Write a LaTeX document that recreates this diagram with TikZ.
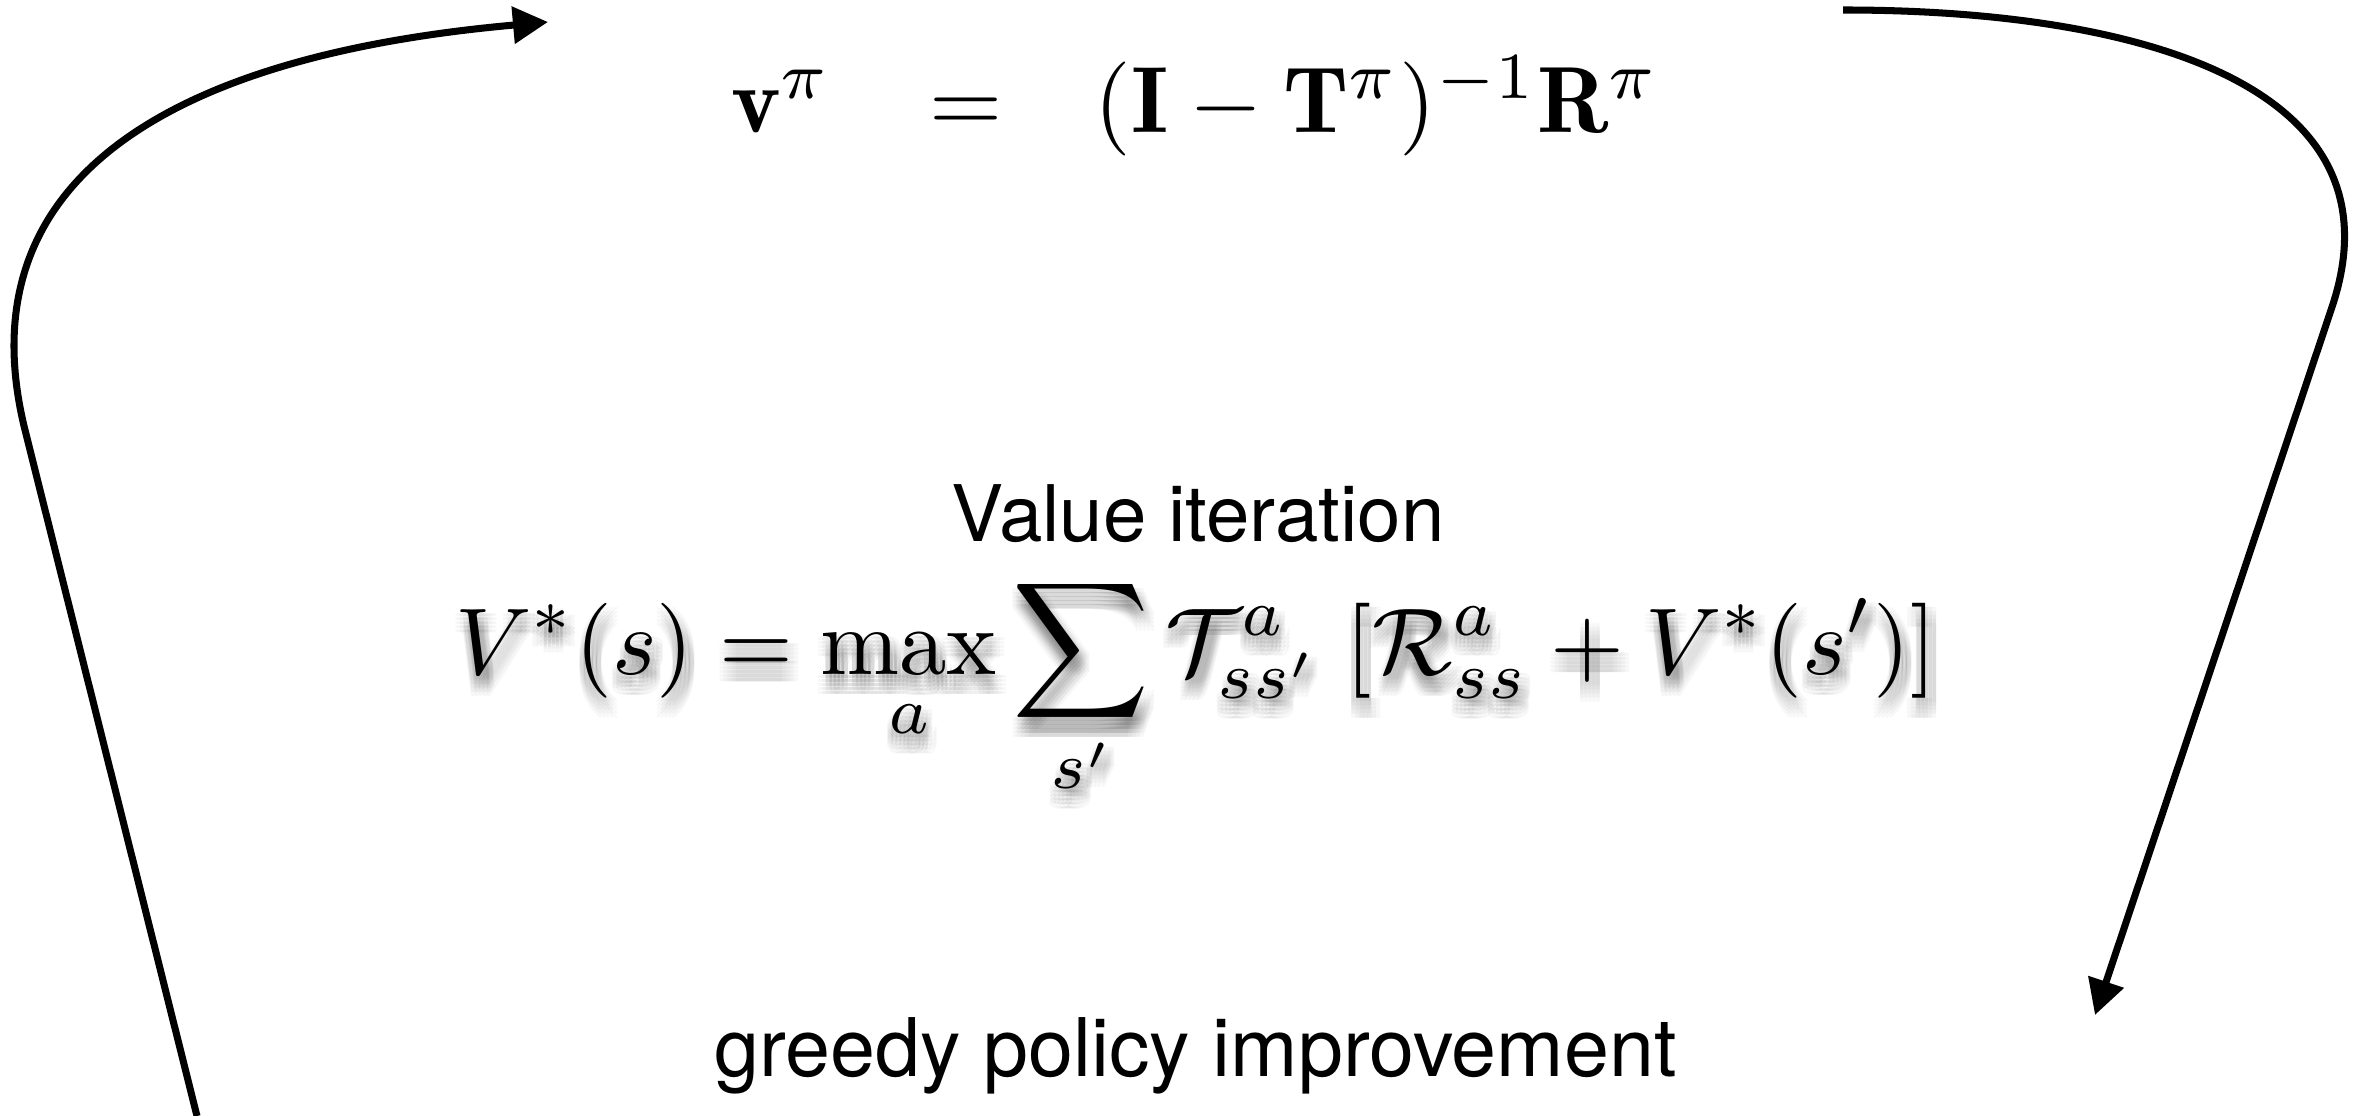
\documentclass[tikz,border=0pt]{standalone}
\usepackage{amsmath}
\usepackage{fontspec}
\newfontfamily\helv{TeX Gyre Heros}
\usetikzlibrary{arrows.meta}
\tikzset{
  loop arrow/.style={line width=2.0pt, -{Triangle[length=3.5mm,width=3.6mm]}},
  label text/.style={inner sep=0pt, anchor=base},
  eqtop/.style={inner sep=0pt, anchor=base, scale=2.675, transform shape},
  eqmid/.style={inner sep=0pt, anchor=base, scale=2.7, transform shape},
  shadowcopy/.style={eqmid, text=black, text opacity=0.03},
}
\newcommand\bellmaneq{$\displaystyle V^*(s)=\max_a\sum_{s'}\mathcal{T}^a_{ss'}\;[\mathcal{R}^a_{ss}+V^*(s')]$}
\begin{document}
\begin{tikzpicture}[x=0.01cm,y=-0.01cm]
\useasboundingbox (0,0) rectangle (2366,1116);
% top equation
\node[eqtop] (policyeval) at (1195.5,133)
  {$\mathbf{v}^\pi\hspace{1.04em}{=}\hspace{0.975em}(\mathbf{I}-\mathbf{T}^\pi)^{-1}\mathbf{R}^\pi$};
% value iteration label
\node[label text, font=\helv\fontsize{22.2pt}{27pt}\selectfont] (vilabel) at (1198,542) {Value iteration};
% shadow of the Bellman equation
\foreach \dx [count=\i] in {-8,-4,0,4,8}{
  \foreach \dy [count=\j] in {-8,-4,0,4,8}{
    \node[shadowcopy] (shadow-\i-\j) at (1196+3+\dx,675+12+\dy) {\bellmaneq};
  }
}
\node[eqmid] (bellman) at (1196,675) {\bellmaneq};
% greedy label
\node[label text, font=\helv\fontsize{23pt}{28pt}\selectfont] (greedy) at (1195.5,1077) {greedy policy improvement};
% loop arrows
\coordinate (Lstart) at (197,1116);
\coordinate (Lbend) at (25,430);
\coordinate (Ltip) at (548,22);
\draw[loop arrow] (Lstart) -- (Lbend) .. controls (-37,180) and (168,56) .. (Ltip);
\coordinate (Rstart) at (1843,10);
\coordinate (Rbend) at (2332,307);
\coordinate (Rtip) at (2095,1015);
\draw[loop arrow] (Rstart) .. controls (2143,10) and (2405.7,87) .. (Rbend) -- (Rtip);
\end{tikzpicture}
\end{document}
